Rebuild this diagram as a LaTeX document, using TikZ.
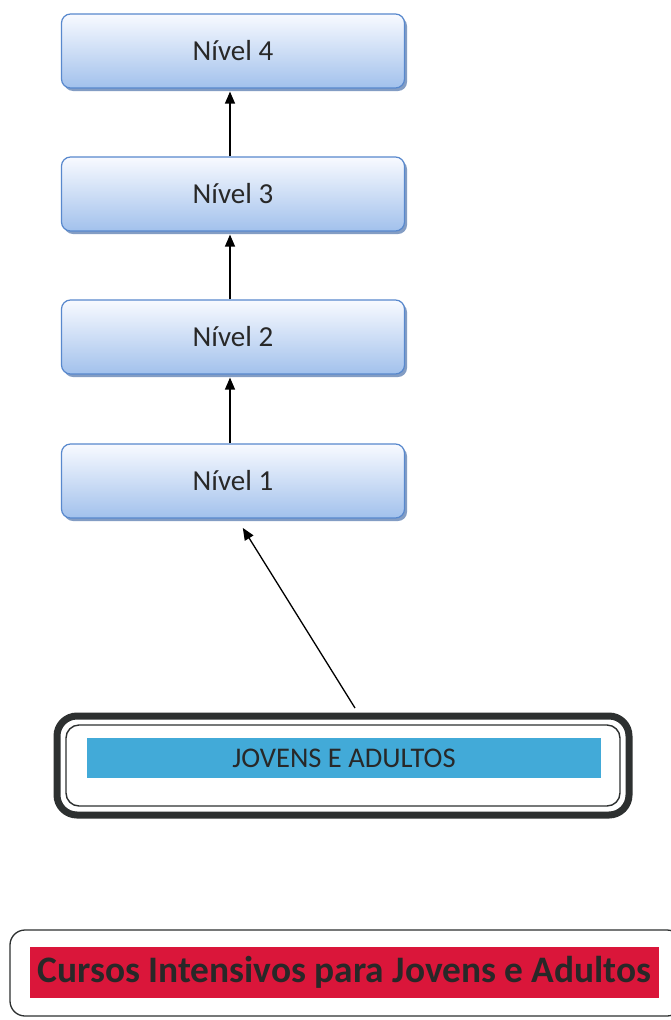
\documentclass[tikz,border=0pt]{standalone}
\usepackage{fontspec}
\setmainfont{Carlito}
\usetikzlibrary{shadows,arrows.meta}
\definecolor{lvlborder}{RGB}{88,136,205}
\definecolor{lvlbottom}{RGB}{162,193,236}
\definecolor{lvltop}{RGB}{248,250,255}
\definecolor{barblue}{RGB}{66,170,216}
\definecolor{barred}{RGB}{218,22,58}
\definecolor{frame}{RGB}{45,48,48}
\definecolor{txt}{RGB}{40,40,40}
\tikzset{
  lvl/.style={rectangle, rounded corners=9pt, draw=lvlborder, line width=1.2pt,
    top color=lvltop, bottom color=lvlbottom, minimum width=343pt, minimum height=74pt,
    font=\fontsize{29}{32}\selectfont, text=txt,
    drop shadow={shadow xshift=2.5pt, shadow yshift=-3pt, fill=lvlborder!70!gray, opacity=0.8}},
  arr/.style={-{Triangle[length=12pt,width=10pt]}, line width=1.3pt, black},
  bar/.style={rectangle, inner sep=0pt, text=txt},
}
\begin{document}
\begin{tikzpicture}[x=1pt,y=-1pt]
\useasboundingbox (0,0) rectangle (671,1020);
\fill[white] (0,0) rectangle (671,1020);

% level boxes
\node[lvl] (n4) at (233,51)  {Nível 4};
\node[lvl] (n3) at (233,194) {Nível 3};
\node[lvl] (n2) at (233,337) {Nível 2};
\node[lvl] (n1) at (233,481) {Nível 1};

\draw[arr] ([xshift=-3pt]n1.north) -- ([xshift=-3pt,yshift=-3pt]n2.south);
\draw[arr] ([xshift=-3pt]n2.north) -- ([xshift=-3pt,yshift=-3pt]n3.south);
\draw[arr] ([xshift=-3pt]n3.north) -- ([xshift=-3pt,yshift=-3pt]n4.south);

% youth and adults group
\node[rectangle, rounded corners=20pt, draw=frame, line width=7pt,
      minimum width=572pt, minimum height=99pt] (grp) at (343,765.5) {};
\node[rectangle, rounded corners=13pt, draw=frame, line width=1.4pt,
      minimum width=554pt, minimum height=81pt] (grpin) at (343,765.5) {};
\node[bar, fill=barblue, minimum width=514pt, minimum height=40pt,
      font=\fontsize{28.5}{30}\selectfont] (ja) at (344,758) {JOVENS E ADULTOS};

\coordinate (src) at (355,708);
\draw[arr, shorten >=11pt] (src) -- ([xshift=4pt]n1.south);

% intensive courses banner
\node[rectangle, rounded corners=15pt, draw=frame, line width=1.3pt,
      minimum width=672pt, minimum height=86pt] (ci) at (346,973) {};
\node[bar, fill=barred, minimum width=629pt, minimum height=51pt,
      font=\fontsize{37.4}{40}\selectfont\bfseries] (cit) at (344.5,972.5)
      {Cursos Intensivos para Jovens e Adultos};
\end{tikzpicture}
\end{document}
